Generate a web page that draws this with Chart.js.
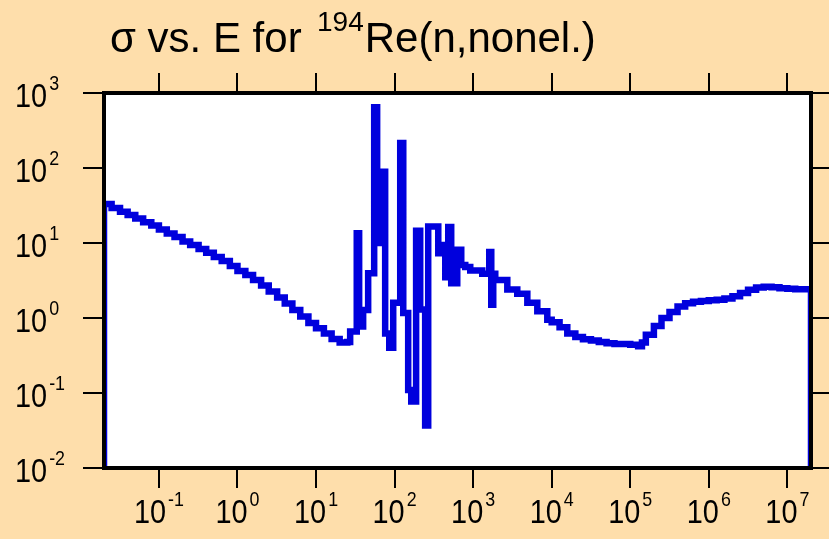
<!DOCTYPE html>
<html>
<head>
<meta charset="utf-8">
<script src="https://cdn.jsdelivr.net/npm/chart.js@4.4.1/dist/chart.umd.min.js"></script>
<style>
html, body { margin: 0; padding: 0; background: #fedeab; }
#wrap { width: 829px; height: 539px; }
</style>
</head>
<body>
<div id="wrap"><canvas id="xsChart" width="829" height="539"></canvas></div>
<script>
// energy (eV) of each step start, and cross section (b) held from there
const energies = [
    0.02, 0.02, 0.025, 0.032, 0.04, 0.05, 0.063, 0.08, 0.1, 0.126, 0.158,
    0.2, 0.25, 0.32, 0.4, 0.5, 0.63, 0.8, 1, 1.26, 1.58,
    2, 2.5, 3.2, 4, 5, 6.3, 8, 10, 12.6, 15.8,
    20, 25, 27.2, 33, 35.4, 39.8, 46.1, 55, 60, 65.6,
    75.9, 85.5, 96.1, 118, 129, 149, 163, 188, 212, 245,
    268, 360, 393, 442, 482, 526, 628, 706, 794, 919,
    1306, 1603, 1702, 1803, 1914, 2723, 3648, 4898, 6561, 8790,
    10000, 12600, 15800, 20000, 25000, 31600, 39800, 50000, 63000, 79400,
    100000, 126000, 141000, 158000, 200000, 250000, 316000, 400000, 500000, 630000,
    794000, 1000000, 1260000, 1580000, 2000000, 2500000, 3160000, 4000000, 5000000, 6300000,
    7940000, 10000000, 12600000, 15800000, 20000000, 20000000
];
const sigmas = [
    0.01, 33, 29.3, 26.1, 23.6, 21.2, 18.9, 17.1, 15.1, 13.4, 12.0,
    10.5, 9.4, 8.3, 7.4, 6.5, 5.75, 4.93, 4.24, 3.74, 3.21,
    2.71, 2.26, 1.88, 1.56, 1.28, 1.05, 0.86, 0.73, 0.62, 0.525,
    0.47, 0.48, 0.66, 13.5, 0.77, 1.28, 3.95, 646, 10, 89,
    0.62, 0.4, 1.6, 215, 1.17, 0.11, 0.077, 14.6, 1.3, 0.037,
    16.6, 7.3, 9.4, 3.5, 16.3, 2.9, 8.1, 5.1, 4.8, 4.3,
    3.9, 7.6, 1.5, 3.9, 3.2, 2.4, 2.1, 1.6, 1.23, 0.95,
    0.88, 0.75, 0.62, 0.56, 0.52, 0.50, 0.48, 0.46, 0.45, 0.45,
    0.44, 0.42, 0.47, 0.6, 0.78, 1.0, 1.2, 1.42, 1.57, 1.65,
    1.69, 1.72, 1.75, 1.82, 1.95, 2.15, 2.38, 2.55, 2.62, 2.57,
    2.49, 2.45, 2.42, 2.41, 2.41, 0.01
];
const xTickPowers = [-1, 0, 1, 2, 3, 4, 5, 6, 7];
const yTickPowers = [-2, -1, 0, 1, 2, 3];
const titleMain = 'σ vs. E for';
const titleMass = '194';
const titleRest = 'Re(n,nonel.)';

const FONT = '"Liberation Sans", Arial, sans-serif';
const SQUEEZE = 0.85;   // tick labels are narrow in the original

function drawPow(ctx, x, y, exp, align) {
    ctx.font = '34px ' + FONT;
    const wBase = ctx.measureText('10').width * SQUEEZE;
    ctx.font = '21px ' + FONT;
    const wExp = ctx.measureText(String(exp)).width * SQUEEZE;
    let x0 = x;
    if (align === 'center') x0 = x - (wBase + wExp + 2) / 2;
    ctx.save();
    ctx.translate(x0, y);
    ctx.scale(SQUEEZE, 1);
    ctx.font = '34px ' + FONT;
    ctx.fillText('10', 0, 0);
    ctx.restore();
    ctx.save();
    ctx.translate(x0 + wBase + 2, y - 17);
    ctx.scale(SQUEEZE, 1);
    ctx.font = '21px ' + FONT;
    ctx.fillText(String(exp), 0, 0);
    ctx.restore();
}

const framePlugin = {
    id: 'frame',
    beforeDraw(chart) {
        const ctx = chart.ctx, a = chart.chartArea;
        ctx.save();
        ctx.fillStyle = '#fedeab';
        ctx.fillRect(0, 0, chart.width, chart.height);
        ctx.fillStyle = '#ffffff';
        ctx.fillRect(a.left, a.top, a.right - a.left, a.bottom - a.top);
        ctx.restore();
    },
    afterDraw(chart) {
        const ctx = chart.ctx, a = chart.chartArea;
        const xs = chart.scales.x, ys = chart.scales.y;
        ctx.save();
        ctx.strokeStyle = '#000';
        ctx.lineWidth = 2;
        ctx.beginPath();
        xTickPowers.forEach(p => {
            const px = Math.round(xs.getPixelForValue(Math.pow(10, p)));
            ctx.moveTo(px, a.bottom); ctx.lineTo(px, a.bottom + 20);
            ctx.moveTo(px, a.top); ctx.lineTo(px, a.top - 20);
        });
        yTickPowers.forEach(p => {
            const py = Math.round(ys.getPixelForValue(Math.pow(10, p)));
            ctx.moveTo(a.left, py); ctx.lineTo(a.left - 21, py);
            ctx.moveTo(a.right, py); ctx.lineTo(a.right + 20, py);
        });
        ctx.stroke();
        ctx.lineWidth = 4;
        ctx.strokeRect(a.left, a.top, a.right - a.left, a.bottom - a.top);

        ctx.fillStyle = '#000';
        ctx.textBaseline = 'alphabetic';
        ctx.textAlign = 'left';
        xTickPowers.forEach(p => {
            drawPow(ctx, xs.getPixelForValue(Math.pow(10, p)), 523, p, 'center');
        });
        yTickPowers.forEach(p => {
            drawPow(ctx, 15, ys.getPixelForValue(Math.pow(10, p)) + 14, p, 'left');
        });

        // title with superscript mass number
        ctx.font = '42px ' + FONT;
        ctx.fillText(titleMain, 110, 52);
        ctx.font = '28px ' + FONT;
        ctx.fillText(titleMass, 317, 31);
        const wMass = ctx.measureText(titleMass).width;
        ctx.font = '42px ' + FONT;
        ctx.fillText(titleRest, 317 + wMass + 1, 52);
        ctx.restore();
    }
};

const ctx = document.getElementById('xsChart');

const xsChart = new Chart(ctx, {
    type: 'line',
    data: {
        datasets: [{
            data: energies.map((e, i) => ({ x: e, y: sigmas[i] })),
            borderColor: '#0000dd',
            borderWidth: 6.5,
            stepped: true,
            pointRadius: 0,
            fill: false,
            clip: 0
        }]
    },
    options: {
        responsive: false,
        animation: false,
        devicePixelRatio: 1,
        layout: {
            padding: { left: 104, right: 18, top: 93, bottom: 71 }
        },
        plugins: {
            legend: { display: false },
            tooltip: { enabled: false }
        },
        scales: {
            x: {
                type: 'logarithmic',
                min: 0.02,
                max: 2e7,
                display: false
            },
            y: {
                type: 'logarithmic',
                min: 0.01,
                max: 1000,
                display: false
            }
        }
    },
    plugins: [framePlugin]
});
</script>
</body>
</html>
